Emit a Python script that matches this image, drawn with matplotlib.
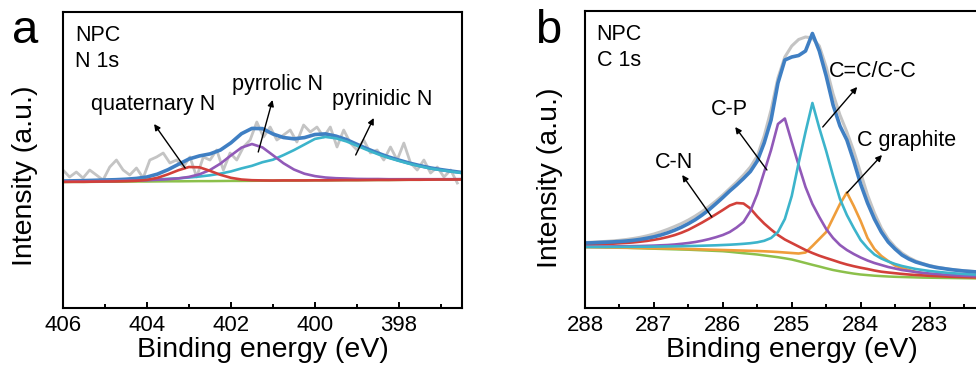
import numpy as np
import matplotlib
matplotlib.use('Agg')
import matplotlib.pyplot as plt

plt.rcParams['font.family'] = ['Liberation Sans', 'DejaVu Sans']

# ---- N 1s 数据 (a) ----
n1s_fit_ev = np.linspace(406.0, 396.5, 39)
n1s_bg = [126.0, 126.1, 126.1, 126.2, 126.3, 126.3, 126.4, 126.5, 126.5, 126.6,
          126.7, 126.7, 126.8, 126.9, 126.9, 127.0, 127.1, 127.1, 127.2, 127.3,
          127.3, 127.4, 127.4, 127.5, 127.6, 127.6, 127.7, 127.8, 127.8, 127.9,
          128.0, 128.0, 128.1, 128.2, 128.2, 128.3, 128.4, 128.4, 128.5]
n1s_quaternary = [126.1, 126.2, 126.2, 126.4, 126.5, 126.6, 126.8, 127.2, 128.1, 130.2,
                  133.7, 137.8, 141.0, 140.7, 137.2, 133.2, 130.2, 128.5, 127.8, 127.6,
                  127.5, 127.6, 127.6, 127.6, 127.7, 127.7, 127.8, 127.9, 127.9, 128.0,
                  128.1, 128.1, 128.2, 128.3, 128.3, 128.4, 128.5, 128.5, 128.6]
n1s_pyrrolic = [126.4, 126.6, 126.7, 126.8, 127.0, 127.1, 127.4, 127.6, 127.8, 128.3,
                128.8, 129.6, 131.1, 133.7, 138.0, 144.4, 152.6, 160.4, 164.0, 160.6,
                152.8, 144.8, 138.5, 134.3, 131.9, 130.5, 129.8, 129.5, 129.1, 129.0,
                129.0, 128.8, 128.8, 128.8, 128.8, 128.8, 128.8, 128.8, 128.9]
n1s_pyridinic = [126.5, 126.7, 126.7, 126.9, 127.1, 127.2, 127.5, 127.8, 128.1, 128.6,
                 129.2, 129.7, 130.5, 131.5, 132.7, 134.4, 136.6, 139.6, 142.2, 145.8,
                 148.3, 152.9, 157.9, 163.5, 169.1, 171.1, 169.7, 166.6, 162.3, 157.9,
                 153.8, 150.2, 147.1, 144.2, 141.7, 139.5, 137.9, 136.4, 135.0]
n1s_envelope = [127.0, 127.2, 127.4, 127.7, 128.0, 128.3, 128.8, 129.6, 131.0, 133.9,
                138.3, 143.7, 149.0, 152.1, 154.1, 158.0, 165.2, 174.3, 179.6, 179.4,
                174.0, 170.5, 169.2, 170.4, 173.5, 174.1, 171.9, 168.4, 163.7, 159.1,
                154.9, 151.1, 147.9, 144.9, 142.4, 140.1, 138.4, 136.9, 135.5]
n1s_raw_ev = np.linspace(406.0, 396.61, 60)
n1s_raw = [138, 131, 136, 130, 138, 133, 128, 141, 148, 138,
           133, 140, 130, 148, 151, 155, 145, 148, 141, 151,
           131, 151, 148, 158, 138, 155, 148, 161, 168, 186,
           171, 181, 168, 173, 178, 166, 183, 176, 181, 171,
           181, 161, 178, 165, 158, 168, 155, 158, 148, 161,
           148, 165, 145, 138, 148, 135, 141, 131, 138, 125]

# ---- C 1s 数据 (b) ----
c1s_ev = np.linspace(288.0, 282.3, 58)
c1s_bg = [61.3, 61.1, 61.0, 60.8, 60.7, 60.5, 60.3, 60.0, 59.8, 59.5,
          59.3, 59.1, 58.9, 58.7, 58.5, 58.3, 58.0, 57.7, 57.4, 57.1,
          56.8, 56.2, 55.5, 54.8, 54.2, 53.5, 52.6, 51.7, 50.8, 49.7,
          48.5, 46.8, 45.0, 43.2, 41.5, 39.7, 38.0, 36.7, 35.5, 34.4,
          33.5, 32.9, 32.3, 31.9, 31.5, 31.2, 31.0, 30.8, 30.6, 30.4,
          30.3, 30.2, 30.1, 30.0, 29.9, 29.8, 29.7, 29.6]
c1s_cn = [63.5, 63.6, 63.8, 64.0, 64.3, 64.7, 65.1, 65.6, 66.3, 67.1,
          68.2, 69.4, 71.0, 72.9, 75.3, 78.2, 81.8, 85.5, 89.5, 93.7,
          98.0, 102.5, 105.0, 104.5, 99.5, 91.5, 84.5, 78.5, 73.0, 68.5,
          65.0, 61.5, 58.0, 55.0, 52.3, 50.0, 47.8, 45.5, 43.5, 41.8,
          40.3, 39.0, 37.5, 36.3, 35.5, 34.8, 34.1, 33.5, 33.0, 32.6,
          32.2, 31.9, 31.6, 31.3, 31.1, 30.9, 30.7, 30.6]
c1s_cp = [61.3, 61.3, 61.4, 61.5, 61.6, 61.7, 61.8, 61.9, 62.0, 62.2,
          62.4, 62.7, 63.0, 63.5, 64.2, 65.0, 66.0, 67.3, 68.9, 70.8,
          73.0, 76.0, 80.5, 86.0, 97.0, 114.0, 136.0, 158.0, 184.0, 189.5,
          166.0, 143.0, 121.0, 104.0, 91.0, 79.0, 70.0, 63.0, 58.0, 54.0,
          50.5, 47.5, 45.0, 43.0, 41.0, 39.5, 38.0, 37.0, 36.0, 35.2,
          34.5, 34.0, 33.5, 33.0, 32.6, 32.3, 32.0, 31.7]
c1s_cc = [61.0, 61.0, 61.0, 61.0, 61.1, 61.1, 61.2, 61.2, 61.3, 61.3,
          61.4, 61.5, 61.6, 61.7, 61.8, 62.0, 62.1, 62.3, 62.5, 62.7,
          63.0, 63.3, 63.7, 64.2, 64.8, 65.7, 67.2, 70.0, 76.0, 89.0,
          112.0, 145.0, 176.0, 205.0, 180.0, 157.0, 132.0, 109.0, 93.0, 80.0,
          68.0, 60.0, 53.5, 49.5, 46.5, 44.0, 42.0, 40.5, 39.0, 38.0,
          37.0, 36.3, 35.6, 35.0, 34.5, 34.0, 33.6, 33.3]
c1s_graphite = [60.8, 60.7, 60.6, 60.5, 60.4, 60.3, 60.2, 60.1, 60.0, 59.9,
                59.8, 59.7, 59.6, 59.4, 59.2, 59.0, 58.8, 58.6, 58.4, 58.2,
                58.0, 57.8, 57.6, 57.4, 57.2, 57.0, 56.7, 56.4, 56.0, 55.5,
                55.0, 54.5, 55.5, 62.0, 69.0, 76.0, 90.0, 104.0, 115.5, 102.0,
                87.0, 70.0, 59.0, 52.0, 47.0, 42.5, 40.0, 38.0, 36.0, 34.8,
                34.0, 33.2, 32.6, 32.0, 31.6, 31.2, 30.9, 30.6]
c1s_envelope = [65.0, 65.2, 65.5, 65.8, 66.1, 66.5, 67.0, 67.7, 68.6, 69.8,
                71.2, 73.0, 75.2, 77.8, 80.8, 84.3, 88.3, 93.0, 98.3, 104.3,
                110.5, 117.0, 123.0, 129.5, 136.5, 147.0, 165.0, 188.0, 225.0, 248.0,
                251.0, 252.5, 257.0, 274.5, 257.0, 232.0, 203.0, 182.0, 168.0, 147.0,
                124.0, 105.0, 89.0, 76.0, 66.0, 59.0, 53.0, 49.0, 46.0, 44.0,
                42.0, 40.5, 39.5, 38.5, 37.7, 37.0, 36.5, 36.0]
c1s_raw = [65.5, 65.8, 66.2, 66.6, 67.1, 67.7, 68.5, 69.5, 70.7, 72.2,
           74.0, 76.2, 78.7, 81.5, 84.5, 88.0, 92.0, 96.5, 101.5, 107.0,
           113.0, 119.5, 126.0, 133.0, 141.0, 152.0, 172.0, 198.0, 230.0, 251.0,
           262.0, 268.5, 271.0, 270.0, 262.0, 241.0, 214.0, 193.0, 176.0, 157.0,
           135.0, 113.0, 95.0, 80.0, 69.0, 61.0, 55.0, 50.5, 47.0, 44.5,
           42.5, 41.0, 39.8, 38.8, 38.0, 37.3, 36.7, 36.2]

# 颜色
C_RAW = '#c4c4c4'
C_ENV = '#3f7fc3'
C_RED = '#d2403a'
C_PUR = '#9159b8'
C_CYA = '#3cb4cb'
C_ORA = '#ef9d3b'
C_GRN = '#8cc04b'


def style_axis(ax, major, minor):
    """坐标轴样式"""
    for sp in ax.spines.values():
        sp.set_linewidth(1.5)
    ax.set_yticks([])
    ax.set_xticks(major)
    ax.set_xticks(minor, minor=True)
    ax.tick_params(axis='x', which='major', direction='in', length=4, width=1.4,
                   labelsize=16, pad=5, top=False)
    ax.tick_params(axis='x', which='minor', direction='in', length=3, width=1.4, top=False)
    ax.set_xlabel('Binding energy (eV)', fontsize=20.5, labelpad=1)
    ax.set_ylabel('Intensity (a.u.)', fontsize=20.5)


def arrow(ax, tail, head):
    ax.annotate('', xy=head, xytext=tail,
                arrowprops=dict(arrowstyle='-|>', color='k', lw=1.0,
                                mutation_scale=9, shrinkA=0, shrinkB=0))


fig = plt.figure(figsize=(9.76, 3.79), dpi=100)

# ---- (a) N 1s ----
ax1 = fig.add_axes([0.0645, 0.1873, 0.4088, 0.781])
ax1.plot(n1s_raw_ev, n1s_raw, color=C_RAW, lw=2.0)
ax1.plot(n1s_fit_ev, n1s_bg, color=C_GRN, lw=1.8)
ax1.plot(n1s_fit_ev, n1s_envelope, color=C_ENV, lw=2.6)
ax1.plot(n1s_fit_ev, n1s_pyridinic, color=C_CYA, lw=1.9)
ax1.plot(n1s_fit_ev, n1s_pyrrolic, color=C_PUR, lw=1.9)
ax1.plot(n1s_fit_ev, n1s_quaternary, color=C_RED, lw=1.9)
ax1.set_xlim(406, 396.5)
ax1.set_ylim(0, 296)
style_axis(ax1, [406, 404, 402, 400, 398], [405, 403, 401, 399, 397])
ax1.yaxis.set_label_coords(-0.063, 0.446)

ax1.text(405.71, 272.5, 'NPC', fontsize=15.5, va='center', ha='left')
ax1.text(405.71, 246.5, 'N 1s', fontsize=15.5, va='center', ha='left')
ax1.text(403.85, 204, 'quaternary N', fontsize=15.5, ha='center', va='center')
ax1.text(400.89, 224, 'pyrrolic N', fontsize=15.5, ha='center', va='center')
ax1.text(398.41, 209, 'pyrinidic N', fontsize=15.5, ha='center', va='center')
arrow(ax1, (403.09, 140), (403.83, 184))
arrow(ax1, (401.35, 156), (401.01, 208))
arrow(ax1, (399.03, 153), (398.6, 190))

# ---- (b) C 1s ----
ax2 = fig.add_axes([0.5994, 0.1873, 0.4236, 0.7837])
ax2.plot(c1s_ev, c1s_raw, color=C_RAW, lw=2.2)
ax2.plot(c1s_ev, c1s_bg, color=C_GRN, lw=1.8)
ax2.plot(c1s_ev, c1s_graphite, color=C_ORA, lw=1.9)
ax2.plot(c1s_ev, c1s_cn, color=C_RED, lw=1.9)
ax2.plot(c1s_ev, c1s_cp, color=C_PUR, lw=1.9)
ax2.plot(c1s_ev, c1s_cc, color=C_CYA, lw=1.9)
ax2.plot(c1s_ev, c1s_envelope, color=C_ENV, lw=2.6)
ax2.set_xlim(288, 282)
ax2.set_ylim(0, 297)
style_axis(ax2, [288, 287, 286, 285, 284, 283], [287.5, 286.5, 285.5, 284.5, 283.5, 282.5])
ax2.yaxis.set_label_coords(-0.053, 0.44)

ax2.text(287.83, 273.5, 'NPC', fontsize=15.5, va='center', ha='left')
ax2.text(287.83, 247.5, 'C 1s', fontsize=15.5, va='center', ha='left')
ax2.text(286.71, 146, 'C-N', fontsize=15.5, ha='center', va='center')
ax2.text(285.91, 198, 'C-P', fontsize=15.5, ha='center', va='center')
ax2.text(283.82, 236, 'C=C/C-C', fontsize=15.5, ha='center', va='center')
ax2.text(283.33, 168, 'C graphite', fontsize=15.5, ha='center', va='center')
arrow(ax2, (286.16, 91), (286.59, 133))
arrow(ax2, (285.36, 138), (285.82, 181))
arrow(ax2, (284.55, 181), (284.05, 221))
arrow(ax2, (284.2, 115), (283.69, 153))

# 面板字母
fig.text(0.012, 1 - 43 / 379, 'a', fontsize=34, ha='left', va='baseline')
fig.text(0.548, 1 - 43 / 379, 'b', fontsize=34, ha='left', va='baseline')

plt.savefig('out.png', dpi=100)
